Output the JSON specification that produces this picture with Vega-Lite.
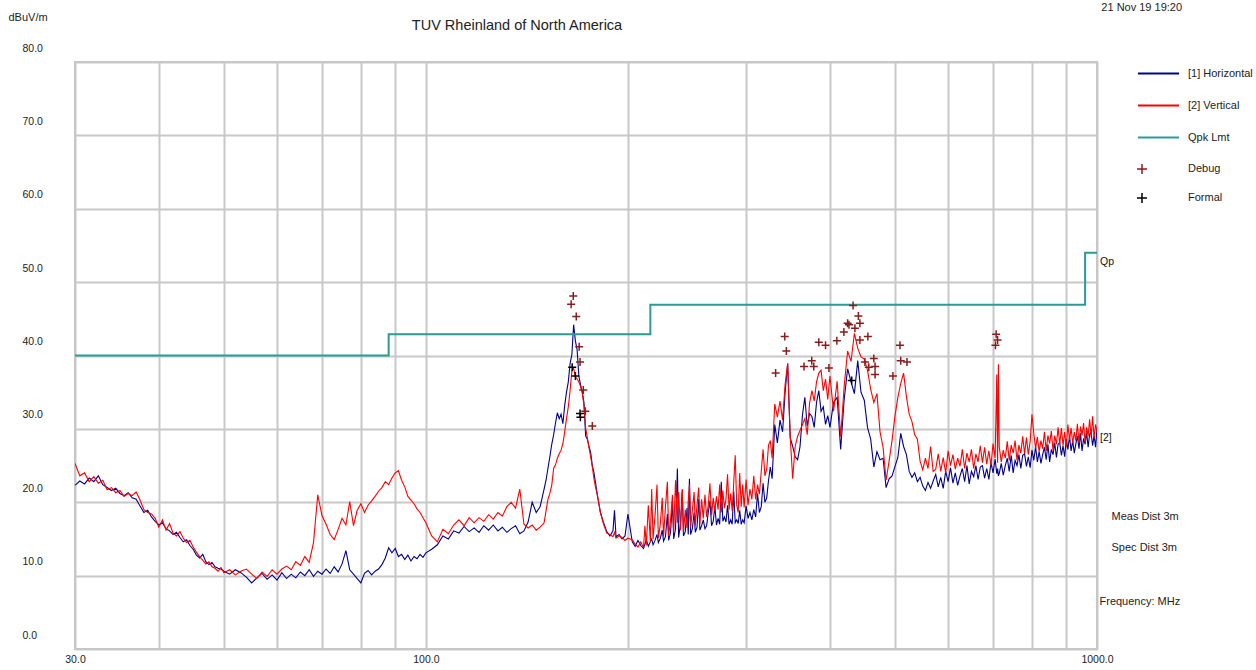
{
"$schema": "https://vega.github.io/schema/vega-lite/v6.json",
"width": 1022,
"height": 587,
"autosize": {"type": "none"},
"padding": {"left": 75, "top": 62, "right": 159, "bottom": 21},
"background": "white",
"config": {"view": {"stroke": "#c4c4c4", "strokeWidth": 2}, "font": "Liberation Sans Narrow, Liberation Sans, Arial, sans-serif"},
"title": {"text": "TUV Rheinland of North America", "frame": "group", "anchor": "middle", "dx": -69, "offset": -39, "baseline": "middle", "fontSize": 14.5, "fontWeight": "normal", "color": "#222"},
"datasets": {
"trace": [
{"f":30,"h":22.3,"v":25.3},{"f":30.5,"h":22.9,"v":23.6},{"f":31,"h":22.5,"v":24.0},{"f":31.5,"h":23.3,"v":22.8},{"f":32,"h":22.8,"v":23.5},{"f":32.5,"h":23.6,"v":22.6},{"f":33,"h":22.4,"v":23.0},{"f":33.5,"h":22.0,"v":21.7},{"f":34,"h":21.6,"v":22.0},{"f":34.5,"h":21.9,"v":21.3},{"f":35,"h":21.2,"v":21.6},{"f":35.5,"h":20.9,"v":20.8},{"f":36,"h":21.3,"v":21.2},{"f":36.5,"h":20.6,"v":20.9},{"f":37,"h":20.4,"v":21.4},{"f":37.5,"h":19.5,"v":20.3},{"f":38,"h":18.6,"v":19.0},{"f":38.5,"h":18.9,"v":18.6},{"f":39,"h":18.0,"v":18.4},{"f":39.5,"h":17.4,"v":17.8},{"f":40,"h":16.9,"v":16.6},{"f":40.5,"h":17.2,"v":17.6},{"f":41,"h":16.4,"v":16.2},{"f":41.5,"h":16.1,"v":17.1},{"f":42,"h":15.6,"v":15.8},{"f":42.5,"h":15.9,"v":15.4},{"f":43,"h":15.2,"v":16.0},{"f":43.5,"h":14.6,"v":15.1},{"f":44,"h":14.9,"v":14.5},{"f":44.5,"h":14.1,"v":14.8},{"f":45,"h":13.6,"v":13.9},{"f":45.5,"h":12.8,"v":13.2},{"f":46,"h":12.4,"v":12.6},{"f":46.5,"h":12.9,"v":12.1},{"f":47,"h":11.9,"v":11.6},{"f":47.5,"h":11.5,"v":11.9},{"f":48,"h":11.8,"v":11.2},{"f":48.5,"h":11.2,"v":11.0},{"f":49,"h":11.0,"v":10.6},{"f":49.5,"h":10.9,"v":11.1},{"f":50,"h":10.6,"v":10.4},
{"f":51,"h":10.2,"v":10.8},{"f":52,"h":10.8,"v":10.1},{"f":53,"h":10.4,"v":10.6},{"f":54,"h":9.8,"v":10.9},{"f":55,"h":9.0,"v":10.2},{"f":56,"h":9.7,"v":9.6},{"f":57,"h":10.3,"v":10.5},{"f":58,"h":9.5,"v":9.9},{"f":59,"h":10.1,"v":10.8},{"f":60,"h":9.4,"v":10.2},{"f":61,"h":10.4,"v":10.9},{"f":62,"h":9.6,"v":11.3},{"f":63,"h":10.2,"v":10.8},{"f":64,"h":9.7,"v":11.9},{"f":65,"h":10.5,"v":11.4},{"f":66,"h":10.0,"v":12.6},{"f":67,"h":10.8,"v":11.8},{"f":68,"h":9.9,"v":14.5},{"f":69,"h":10.6,"v":21.0},{"f":70,"h":10.2,"v":18.2},{"f":71,"h":10.9,"v":17.0},{"f":72,"h":10.3,"v":15.6},{"f":73,"h":11.2,"v":14.9},{"f":74,"h":10.5,"v":16.3},{"f":75,"h":11.6,"v":17.8},{"f":76,"h":13.4,"v":16.9},{"f":77,"h":10.8,"v":20.1},{"f":78,"h":10.2,"v":16.8},{"f":79,"h":9.6,"v":18.9},{"f":80,"h":9.0,"v":19.8},{"f":81,"h":10.3,"v":18.6},{"f":82,"h":10.7,"v":19.6},{"f":83,"h":10.1,"v":20.2},{"f":84,"h":10.6,"v":20.8},{"f":85,"h":10.9,"v":21.5},{"f":86,"h":11.5,"v":22.0},{"f":87,"h":12.4,"v":22.8},{"f":88,"h":13.8,"v":22.4},{"f":89,"h":13.1,"v":23.3},{"f":90,"h":13.7,"v":24.0},{"f":91,"h":12.6,"v":24.3},{"f":92,"h":12.9,"v":23.0},{"f":93,"h":12.2,"v":22.1},{"f":94,"h":12.8,"v":20.8},{"f":95,"h":12.0,"v":20.3},{"f":96,"h":12.6,"v":19.8},{"f":97,"h":12.3,"v":19.1},{"f":98,"h":12.9,"v":18.6},{"f":99,"h":12.5,"v":17.9},{"f":100,"h":13.1,"v":17.2},
{"f":102,"h":13.6,"v":15.4},{"f":104,"h":14.2,"v":14.6},{"f":106,"h":15.4,"v":16.3},{"f":108,"h":15.0,"v":15.7},{"f":110,"h":16.1,"v":16.9},{"f":112,"h":15.8,"v":17.6},{"f":114,"h":16.7,"v":16.8},{"f":116,"h":16.0,"v":17.9},{"f":118,"h":16.5,"v":17.2},{"f":120,"h":15.9,"v":17.9},{"f":122,"h":16.8,"v":17.4},{"f":124,"h":16.2,"v":18.3},{"f":126,"h":16.9,"v":17.7},{"f":128,"h":16.1,"v":18.6},{"f":130,"h":16.6,"v":18.1},{"f":132,"h":15.9,"v":19.4},{"f":134,"h":16.4,"v":20.0},{"f":136,"h":16.8,"v":19.2},{"f":138,"h":15.7,"v":21.8},{"f":140,"h":16.1,"v":17.0},{"f":142,"h":17.3,"v":16.5},{"f":144,"h":20.0,"v":16.9},{"f":146,"h":18.6,"v":16.2},{"f":148,"h":19.4,"v":16.6},{"f":150,"h":21.8,"v":17.2},{"f":151,"h":23.0,"v":18.8},{"f":152,"h":24.6,"v":20.4},{"f":153,"h":26.2,"v":21.2},{"f":154,"h":27.9,"v":22.3},{"f":155,"h":29.2,"v":24.6},{"f":156,"h":30.8,"v":25.1},{"f":157,"h":32.2,"v":26.0},{"f":158,"h":31.4,"v":26.6},{"f":159,"h":32.0,"v":27.1},{"f":160,"h":30.7,"v":28.0},{"f":161,"h":33.2,"v":29.6},{"f":162,"h":35.0,"v":31.4},{"f":163,"h":36.4,"v":33.0},{"f":164,"h":38.9,"v":35.2},{"f":165,"h":40.1,"v":37.9},{"f":166,"h":44.2,"v":38.3},{"f":167,"h":42.0,"v":37.1},{"f":168,"h":40.8,"v":36.8},{"f":169,"h":37.2,"v":36.4},{"f":170,"h":36.0,"v":35.8},{"f":171,"h":35.0,"v":34.9},{"f":172,"h":33.6,"v":33.2},{"f":173,"h":29.0,"v":30.1},{"f":174,"h":28.6,"v":28.8},{"f":175,"h":27.6,"v":27.4},{"f":176,"h":26.8,"v":26.2},{"f":177,"h":25.0,"v":24.8},{"f":178,"h":24.0,"v":23.2},{"f":179,"h":22.6,"v":22.0},{"f":180,"h":21.0,"v":21.2},{"f":181,"h":19.8,"v":19.9},{"f":182,"h":18.6,"v":18.6},{"f":184,"h":17.2,"v":17.0},{"f":186,"h":16.0,"v":15.8},{"f":188,"h":15.4,"v":15.6},{"f":190,"h":16.1,"v":15.3},{"f":191,"h":18.9,"v":15.9},{"f":192,"h":15.3,"v":15.1},{"f":194,"h":15.6,"v":15.4},{"f":196,"h":15.0,"v":15.2},{"f":198,"h":15.4,"v":14.8},{"f":200,"h":18.4,"v":15.1},
{"f":203,"h":14.6,"v":14.9},{"f":205,"h":14.0,"v":14.3},{"f":207,"h":14.8,"v":13.9},{"f":209,"h":14.1,"v":14.6},{"f":211,"h":13.7,"v":13.8},{"f":212,"h":14.3,"v":16.8},{"f":213,"h":14.9,"v":14.1},{"f":214.5,"h":14.0,"v":19.6},{"f":216,"h":14.6,"v":14.6},{"f":217,"h":15.0,"v":21.8},{"f":218,"h":14.2,"v":15.0},{"f":219.5,"h":14.8,"v":18.2},{"f":221,"h":15.6,"v":22.4},{"f":222,"h":14.5,"v":15.1},{"f":223.5,"h":15.1,"v":17.0},{"f":225,"h":16.2,"v":20.6},{"f":226,"h":14.7,"v":15.3},{"f":227.5,"h":15.3,"v":19.4},{"f":229,"h":18.4,"v":22.8},{"f":230,"h":14.8,"v":15.4},{"f":231.5,"h":15.9,"v":17.6},{"f":233,"h":20.1,"v":21.0},{"f":234,"h":15.0,"v":15.8},{"f":235.5,"h":16.4,"v":23.0},{"f":237,"h":24.6,"v":17.2},{"f":238,"h":15.2,"v":21.4},{"f":239.5,"h":17.0,"v":16.2},{"f":241,"h":21.6,"v":21.8},{"f":242,"h":15.4,"v":15.9},{"f":243.5,"h":16.0,"v":19.0},{"f":245,"h":19.2,"v":16.5},{"f":246,"h":15.6,"v":20.2},{"f":247,"h":23.2,"v":22.4},{"f":248,"h":15.6,"v":16.6},{"f":249.5,"h":16.4,"v":18.9},{"f":251,"h":18.6,"v":21.4},{"f":252,"h":15.9,"v":16.8},{"f":253.5,"h":16.6,"v":19.6},{"f":255,"h":20.4,"v":22.0},{"f":256,"h":16.2,"v":17.0},{"f":257.5,"h":16.8,"v":20.4},{"f":259,"h":17.6,"v":17.8},{"f":260.5,"h":16.4,"v":21.0},{"f":262,"h":16.8,"v":18.0},{"f":263.5,"h":18.6,"v":19.6},{"f":265,"h":20.2,"v":22.6},{"f":266.5,"h":16.8,"v":18.2},{"f":268,"h":17.4,"v":20.6},{"f":269.5,"h":19.4,"v":18.8},{"f":271,"h":16.9,"v":20.8},{"f":272.5,"h":17.8,"v":19.0},{"f":274,"h":17.0,"v":22.4},{"f":275.5,"h":22.8,"v":18.6},{"f":277,"h":17.4,"v":21.6},{"f":278.5,"h":18.0,"v":19.2},{"f":280,"h":17.3,"v":20.4},{"f":281.5,"h":19.6,"v":23.8},{"f":283,"h":17.0,"v":19.0},{"f":284.5,"h":17.6,"v":21.2},{"f":286,"h":17.0,"v":18.8},{"f":287.5,"h":21.5,"v":22.6},{"f":289,"h":17.2,"v":26.4},{"f":290.5,"h":17.6,"v":19.6},{"f":292,"h":17.1,"v":18.6},{"f":293.5,"h":18.9,"v":24.0},{"f":295,"h":17.0,"v":19.4},{"f":296.5,"h":17.6,"v":22.4},{"f":298,"h":17.2,"v":19.3},{"f":300,"h":19.5,"v":23.1},{"f":302,"h":17.8,"v":19.6},{"f":304,"h":18.6,"v":21.8},{"f":306,"h":17.6,"v":20.4},{"f":308,"h":19.0,"v":23.6},{"f":310,"h":18.0,"v":20.4},{"f":312,"h":21.2,"v":22.4},{"f":314,"h":18.6,"v":21.1},{"f":316,"h":19.4,"v":24.2},{"f":318,"h":22.6,"v":27.2},{"f":320,"h":20.0,"v":23.6},{"f":322,"h":20.6,"v":24.5},{"f":324,"h":23.0,"v":27.8},{"f":326,"h":24.8,"v":28.4},{"f":328,"h":23.2,"v":26.0},
{"f":331,"h":30.6,"v":33.4},{"f":334,"h":28.1,"v":31.6},{"f":337,"h":31.2,"v":33.8},{"f":340,"h":29.6,"v":31.2},{"f":343,"h":35.0,"v":36.1},{"f":346,"h":38.9,"v":38.9},{"f":349,"h":28.8,"v":29.0},{"f":352,"h":27.6,"v":23.2},{"f":355,"h":26.2,"v":27.6},{"f":358,"h":25.8,"v":29.0},{"f":361,"h":27.6,"v":29.8},{"f":364,"h":31.9,"v":30.6},{"f":367,"h":34.3,"v":31.4},{"f":370,"h":30.4,"v":29.2},{"f":373,"h":32.1,"v":33.5},{"f":376,"h":31.7,"v":35.2},{"f":379,"h":30.2,"v":33.8},{"f":382,"h":33.6,"v":36.4},{"f":385,"h":35.2,"v":37.6},{"f":388,"h":32.4,"v":38.0},{"f":391,"h":33.0,"v":35.2},{"f":394,"h":30.6,"v":36.8},{"f":397,"h":31.8,"v":34.0},
{"f":400,"h":30.2,"v":37.2},{"f":405,"h":33.6,"v":32.4},{"f":410,"h":34.3,"v":36.5},{"f":415,"h":27.2,"v":28.9},{"f":420,"h":34.0,"v":35.8},{"f":425,"h":38.2,"v":40.6},{"f":430,"h":36.4,"v":39.2},{"f":435,"h":34.8,"v":43.0},{"f":440,"h":39.3,"v":41.0},{"f":445,"h":35.0,"v":39.8},{"f":450,"h":33.9,"v":39.5},{"f":455,"h":30.2,"v":38.0},{"f":460,"h":28.6,"v":35.4},{"f":465,"h":24.8,"v":33.6},{"f":470,"h":26.9,"v":34.8},{"f":475,"h":25.8,"v":29.6},{"f":480,"h":26.0,"v":27.5},{"f":485,"h":22.0,"v":23.0},{"f":490,"h":23.2,"v":25.6},{"f":495,"h":23.6,"v":28.4},{"f":500,"h":24.9,"v":31.8},{"f":505,"h":26.1,"v":34.3},{"f":510,"h":29.4,"v":36.2},{"f":515,"h":27.6,"v":37.6},{"f":520,"h":26.5,"v":34.4},{"f":525,"h":24.2,"v":32.0},{"f":530,"h":23.4,"v":31.0},{"f":535,"h":24.0,"v":29.2},{"f":540,"h":22.8,"v":28.6},{"f":545,"h":23.4,"v":25.6},{"f":550,"h":22.2,"v":24.4},{"f":555,"h":21.6,"v":26.0},{"f":560,"h":22.7,"v":24.6},{"f":565,"h":21.9,"v":27.6},{"f":570,"h":22.9,"v":24.2},
{"f":575,"h":23.8,"v":24.5},{"f":580,"h":22.1,"v":26.6},{"f":585,"h":23.4,"v":24.2},{"f":590,"h":21.9,"v":26.1},{"f":595,"h":24.2,"v":24.0},{"f":600,"h":22.8,"v":27.0},{"f":605,"h":24.7,"v":25.0},{"f":610,"h":22.6,"v":26.5},{"f":615,"h":24.0,"v":24.5},{"f":620,"h":22.3,"v":26.0},{"f":625,"h":23.6,"v":24.9},{"f":630,"h":24.6,"v":27.2},{"f":635,"h":22.8,"v":24.6},{"f":640,"h":25.0,"v":26.7},{"f":645,"h":22.5,"v":25.5},{"f":650,"h":24.2,"v":27.2},{"f":655,"h":23.5,"v":24.6},{"f":660,"h":25.0,"v":26.6},{"f":665,"h":23.1,"v":25.5},{"f":670,"h":24.8,"v":27.7},{"f":675,"h":25.0,"v":25.4},{"f":680,"h":23.3,"v":27.5},{"f":685,"h":24.6,"v":25.2},{"f":690,"h":23.1,"v":27.0},{"f":695,"h":25.4,"v":25.0},{"f":700,"h":24.0,"v":28.0},{"f":705,"h":25.9,"v":26.0},{"f":709,"h":23.9,"v":37.4},{"f":711,"h":24.6,"v":25.4},{"f":713,"h":23.6,"v":38.8},{"f":715,"h":23.9,"v":27.6},{"f":720,"h":25.3,"v":25.5},{"f":725,"h":23.7,"v":27.1},{"f":730,"h":25.0,"v":26.0},{"f":735,"h":26.0,"v":28.3},{"f":740,"h":24.2,"v":25.7},{"f":745,"h":26.4,"v":27.8},{"f":750,"h":24.0,"v":26.7},{"f":755,"h":25.7,"v":28.4},{"f":760,"h":25.0,"v":25.7},{"f":765,"h":26.5,"v":27.8},{"f":770,"h":24.6,"v":26.7},{"f":775,"h":26.4,"v":29.0},{"f":780,"h":26.6,"v":26.6},{"f":785,"h":24.9,"v":28.8},{"f":790,"h":26.2,"v":26.5},{"f":795,"h":24.7,"v":28.3},{"f":800,"h":27.1,"v":32.0},{"f":805,"h":25.7,"v":29.4},{"f":810,"h":27.6,"v":27.3},{"f":815,"h":25.5,"v":28.9},{"f":820,"h":26.9,"v":26.9},{"f":825,"h":25.3,"v":28.4},{"f":830,"h":26.5,"v":27.3},{"f":835,"h":27.5,"v":29.6},{"f":840,"h":25.8,"v":27.0},{"f":845,"h":27.9,"v":29.1},{"f":850,"h":25.5,"v":28.0},{"f":855,"h":27.2,"v":29.7},{"f":860,"h":26.5,"v":27.0},{"f":865,"h":28.1,"v":29.1},{"f":870,"h":26.1,"v":27.9},{"f":875,"h":27.9,"v":30.2},{"f":880,"h":28.1,"v":27.9},{"f":885,"h":26.4,"v":30.1},{"f":890,"h":27.7,"v":27.7},{"f":895,"h":26.2,"v":29.6},{"f":900,"h":28.6,"v":27.5},{"f":905,"h":27.2,"v":30.6},{"f":910,"h":29.0,"v":28.5},{"f":915,"h":27.0,"v":30.1},{"f":920,"h":28.4,"v":28.0},{"f":925,"h":26.7,"v":29.6},{"f":930,"h":28.0,"v":28.4},{"f":935,"h":29.0,"v":30.7},{"f":940,"h":27.3,"v":28.1},{"f":945,"h":29.4,"v":30.3},{"f":950,"h":27.0,"v":29.1},{"f":955,"h":28.7,"v":30.8},{"f":960,"h":27.9,"v":28.1},{"f":965,"h":29.5,"v":30.2},{"f":970,"h":27.5,"v":29.0},{"f":975,"h":29.3,"v":31.3},{"f":980,"h":29.5,"v":28.9},{"f":985,"h":27.7,"v":31.7},{"f":990,"h":29.1,"v":28.7},{"f":995,"h":27.5,"v":30.6},{"f":1000,"h":30.0,"v":29.7}
],
"limit": [{"f":30,"lim":40},{"f":88,"lim":42.9},{"f":216,"lim":46.9},{"f":960,"lim":54},{"f":1000,"lim":54}],
"peaks": [
{"f":165.8,"dB":48.1,"kind":"Debug"},{"f":164.6,"dB":47.0,"kind":"Debug"},{"f":167.5,"dB":45.3,"kind":"Debug"},{"f":169.2,"dB":41.2,"kind":"Debug"},{"f":169.7,"dB":39.1,"kind":"Debug"},{"f":171.6,"dB":35.3,"kind":"Debug"},{"f":172.8,"dB":32.4,"kind":"Debug"},{"f":177.0,"dB":30.4,"kind":"Debug"},
{"f":332,"dB":37.6,"kind":"Debug"},{"f":342.5,"dB":42.6,"kind":"Debug"},{"f":344.4,"dB":40.6,"kind":"Debug"},{"f":366,"dB":38.5,"kind":"Debug"},{"f":375.8,"dB":39.3,"kind":"Debug"},{"f":378.4,"dB":38.5,"kind":"Debug"},{"f":385,"dB":41.8,"kind":"Debug"},{"f":394,"dB":41.4,"kind":"Debug"},{"f":398.6,"dB":38.3,"kind":"Debug"},{"f":409.6,"dB":42.0,"kind":"Debug"},{"f":419.6,"dB":43.2,"kind":"Debug"},{"f":425,"dB":44.4,"kind":"Debug"},{"f":427,"dB":44.2,"kind":"Debug"},{"f":433,"dB":46.8,"kind":"Debug"},{"f":435.8,"dB":43.7,"kind":"Debug"},{"f":441,"dB":45.4,"kind":"Debug"},{"f":443.3,"dB":44.4,"kind":"Debug"},{"f":443.3,"dB":42.1,"kind":"Debug"},{"f":451,"dB":39.1,"kind":"Debug"},{"f":455.6,"dB":42.6,"kind":"Debug"},{"f":457,"dB":38.4,"kind":"Debug"},{"f":465,"dB":39.6,"kind":"Debug"},{"f":467,"dB":38.5,"kind":"Debug"},{"f":467,"dB":37.4,"kind":"Debug"},{"f":496.5,"dB":37.2,"kind":"Debug"},{"f":508.6,"dB":41.4,"kind":"Debug"},{"f":510,"dB":39.3,"kind":"Debug"},{"f":521,"dB":39.1,"kind":"Debug"},{"f":705.8,"dB":41.4,"kind":"Debug"},{"f":707.5,"dB":42.9,"kind":"Debug"},{"f":711,"dB":42.1,"kind":"Debug"},
{"f":165.2,"dB":38.4,"kind":"Formal"},{"f":167,"dB":37.2,"kind":"Formal"},{"f":169.7,"dB":32.1,"kind":"Formal"},{"f":169.9,"dB":31.6,"kind":"Formal"},{"f":431,"dB":36.6,"kind":"Formal"}
],
"endlabels": [{"f":1000,"y":54,"t":"Qp"},{"f":1000,"y":30,"t":"[2]"}],
"notes": [{"f":1015,"y":87.4,"t":"21 Nov 19 19:20"},{"f":1051,"y":18.0,"t":"Meas Dist 3m"},{"f":1051,"y":13.8,"t":"Spec Dist 3m"}]
},
"layer": [
{"data": {"name": "trace"}, "mark": {"type": "line", "strokeWidth": 1.1, "clip": true},
 "encoding": {
  "x": {"field": "f", "type": "quantitative", "scale": {"type": "log", "domain": [30, 1000], "nice": false},
   "axis": {"values": [30,40,50,60,70,80,90,100,200,300,400,500,600,700,800,900,1000], "labelExpr": "datum.value==30||datum.value==100||datum.value==1000 ? format(datum.value,'.1f') : ''", "ticks": false, "domain": false, "grid": true, "gridColor": "#c8c8c8", "gridWidth": 2, "labelFontSize": 10.5, "labelPadding": 5, "labelColor": "#222", "labelOverlap": false, "labelFlush": false, "title": "Frequency: MHz", "titleX": 1024, "titleY": -48, "titleAlign": "left", "titleBaseline": "middle", "titleFontWeight": "normal", "titleFontSize": 11, "titleColor": "#222"}},
  "y": {"field": "h", "type": "quantitative", "scale": {"domain": [0, 80], "nice": false},
   "axis": {"values": [0,10,20,30,40,50,60,70,80], "format": ".1f", "ticks": false, "domain": false, "grid": true, "gridColor": "#c8c8c8", "gridWidth": 2, "labelAlign": "left", "labelPadding": 53, "labelOffset": -14, "labelBaseline": "middle", "labelFontSize": 10.5, "labelColor": "#222", "title": "dBuV/m", "titleAngle": 0, "titleX": -67, "titleY": -45, "titleAlign": "left", "titleBaseline": "middle", "titleFontWeight": "normal", "titleFontSize": 11, "titleColor": "#222"}},
  "color": {"datum": "[1] Horizontal", "type": "nominal", "scale": {"domain": ["[1] Horizontal", "[2] Vertical", "Qpk Lmt"], "range": ["#00008b", "#ff0000", "#2b9b95"]},
   "legend": {"orient": "none", "legendX": 1062, "legendY": -10, "title": null, "symbolType": "stroke", "symbolSize": 1681, "symbolStrokeWidth": 2, "labelOffset": 8, "labelFontSize": 11, "labelColor": "#222", "rowPadding": 5}}
 }},
{"data": {"name": "trace"}, "mark": {"type": "line", "strokeWidth": 1.1, "clip": true},
 "encoding": {"x": {"field": "f", "type": "quantitative"}, "y": {"field": "v", "type": "quantitative", "title": "dBuV/m"}, "color": {"datum": "[2] Vertical", "type": "nominal"}}},
{"data": {"name": "limit"}, "mark": {"type": "line", "interpolate": "step-after", "strokeWidth": 2},
 "encoding": {"x": {"field": "f", "type": "quantitative"}, "y": {"field": "lim", "type": "quantitative", "title": "dBuV/m"}, "color": {"datum": "Qpk Lmt", "type": "nominal"}}},
{"data": {"name": "peaks"}, "mark": {"type": "point", "filled": false, "strokeWidth": 1.5, "size": 64, "opacity": 1},
 "encoding": {"x": {"field": "f", "type": "quantitative"}, "y": {"field": "dB", "type": "quantitative", "title": "dBuV/m"},
  "shape": {"field": "kind", "type": "nominal", "scale": {"domain": ["Debug", "Formal"], "range": ["M-1,0H1M0,-1V1", "M-1,0H1M0,-1V1"]}, "legend": {"orient": "none", "legendX": 1061, "legendY": 101, "title": null, "labelOffset": 40, "labelFontSize": 11, "labelColor": "#222", "rowPadding": 13, "symbolStrokeWidth": 1.5}},
  "stroke": {"field": "kind", "type": "nominal", "scale": {"domain": ["Debug", "Formal"], "range": ["#8b1c1c", "#000000"]}, "legend": {"orient": "none", "legendX": 1061, "legendY": 101, "title": null, "labelOffset": 40, "labelFontSize": 11, "labelColor": "#222", "rowPadding": 13, "symbolStrokeWidth": 1.5}}}},
{"data": {"name": "endlabels"}, "mark": {"type": "text", "align": "left", "baseline": "middle", "dx": 3, "dy": 9, "fontSize": 10.5, "color": "#111", "clip": false},
 "encoding": {"x": {"field": "f", "type": "quantitative"}, "y": {"field": "y", "type": "quantitative", "title": "dBuV/m"}, "text": {"field": "t"}}},
{"data": {"name": "notes"}, "mark": {"type": "text", "align": "left", "baseline": "middle", "fontSize": 11, "color": "#222", "clip": false},
 "encoding": {"x": {"field": "f", "type": "quantitative"}, "y": {"field": "y", "type": "quantitative", "title": "dBuV/m"}, "text": {"field": "t"}}}
]
}
